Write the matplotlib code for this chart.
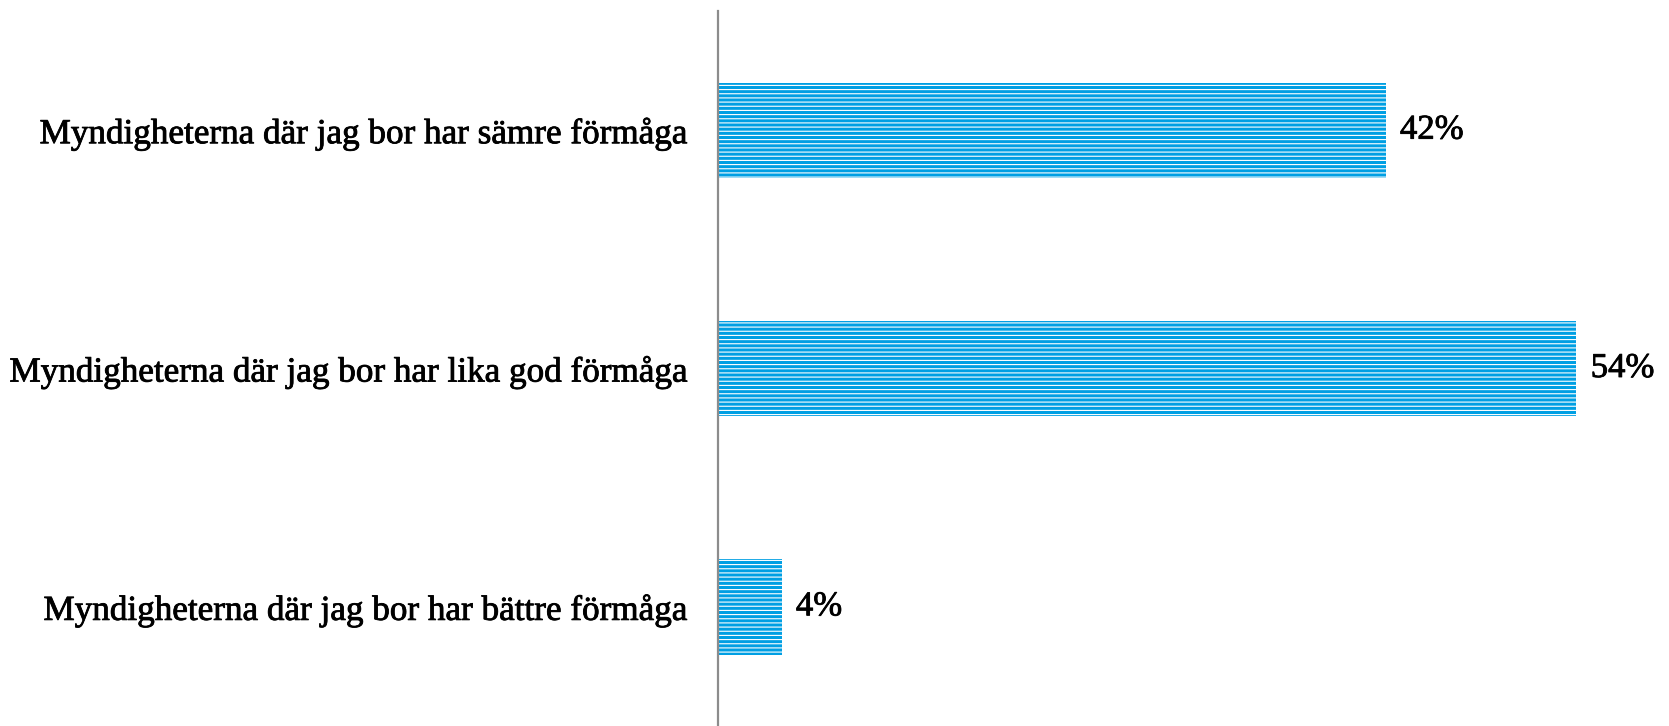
import matplotlib
matplotlib.use("Agg")
import matplotlib.pyplot as plt
import matplotlib.patheffects as pe

categories = [
    "Myndigheterna där jag bor har sämre förmåga",
    "Myndigheterna där jag bor har lika god förmåga",
    "Myndigheterna där jag bor har bättre förmåga",
]
values = [42, 54, 4]

plt.rcParams['font.family'] = ['Liberation Serif', 'DejaVu Serif']
plt.rcParams['hatch.linewidth'] = 0.8

fig = plt.figure(figsize=(16.69, 7.26), dpi=100)
ax = fig.add_axes([718 / 1669, 0.0, 922 / 1669, 715 / 726])

pos = list(range(len(categories)))
bars = ax.barh(pos, values, height=0.4, color='#009fe3', edgecolor='white',
               linewidth=0, hatch='----')

# slightly heavier text, closer to the original typeface
heavy = [pe.withStroke(linewidth=0.6, foreground='black')]

for b, v in zip(bars, values):
    ax.text(b.get_width() + 0.9, b.get_y() + b.get_height() / 2, f"{v}%",
            va='center', ha='left', fontsize=25, color='black',
            path_effects=heavy)

ax.set_yticks(pos)
ax.set_yticklabels(categories, fontsize=25.3, path_effects=heavy)
ax.set_ylim(2.5, -0.5)
ax.set_xlim(0, 58)
ax.set_xticks([])
ax.tick_params(axis='y', length=0, pad=22)

for s in ['top', 'right', 'bottom']:
    ax.spines[s].set_visible(False)
ax.spines['left'].set_color('#8c8c8c')
ax.spines['left'].set_linewidth(1.6)

fig.savefig("out.png", dpi=100)
